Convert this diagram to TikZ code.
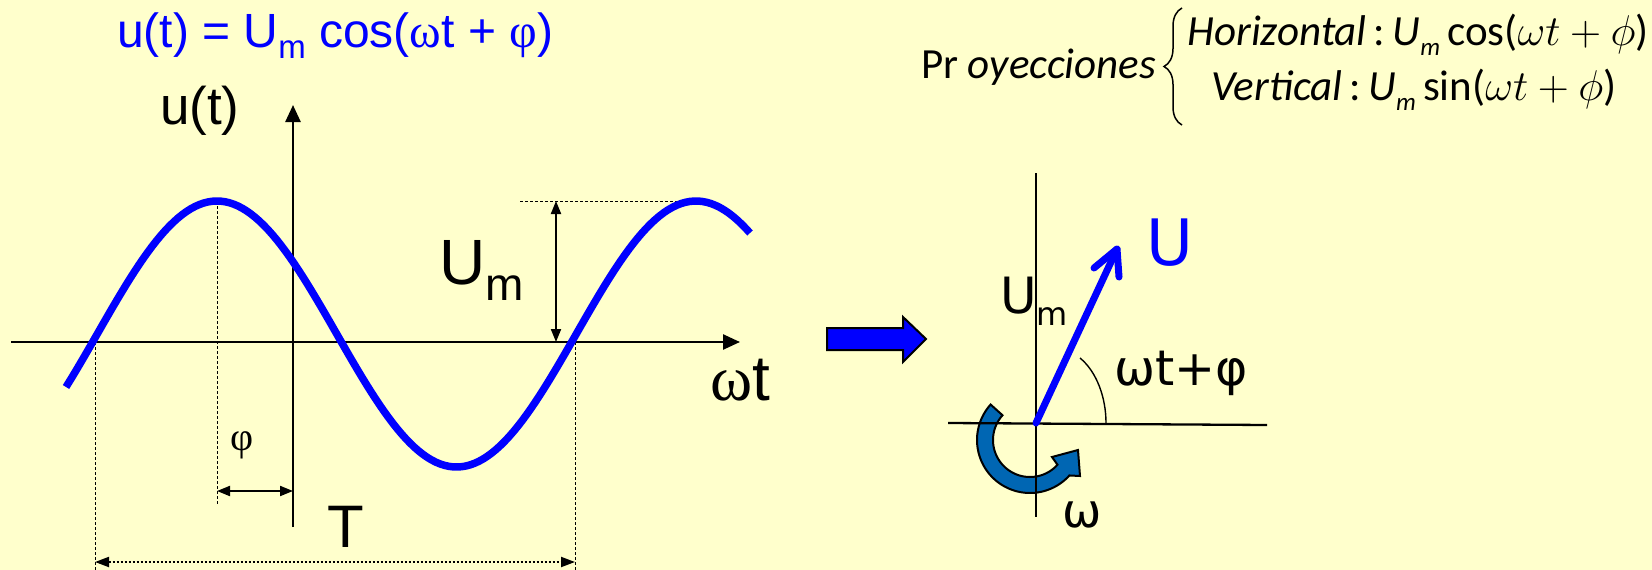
\RequirePackage{fix-cm}
\documentclass[tikz,border=0pt]{standalone}
\usepackage{fontspec}
\setmainfont{Liberation Sans}
\newfontfamily\serifg{Liberation Serif}
\newfontfamily\carl{Carlito}
\newfontfamily\dvs{DejaVu Sans}
\usetikzlibrary{arrows.meta,decorations.pathreplacing}
\definecolor{bg}{RGB}{255,255,204}
\definecolor{rotblue}{RGB}{0,102,179}
\newcommand\fsz[1]{\fontsize{#1}{#1}\selectfont}
\begin{document}
\begin{tikzpicture}[x=1pt,y=-1pt,
  lbl/.style={inner sep=0pt, outer sep=0pt},
  axisline/.style={line width=2.5pt, -{Triangle[length=17pt,width=15pt]}},
  dimline/.style={line width=2pt, {Triangle[length=13pt,width=10pt]}-{Triangle[length=13pt,width=10pt]}},
  guide/.style={line width=1pt, dash pattern=on 3pt off 2pt},
  periodline/.style={line width=2pt, dash pattern=on 2pt off 2pt, {Triangle[length=14pt,width=10pt]}-{Triangle[length=14pt,width=10pt]}},
  thinaxis/.style={line width=2.3pt}]
\fill[bg] (0,0) rectangle (1652,570);
\useasboundingbox (0,0) rectangle (1652,570);

% ---------- left: waveform ----------
\coordinate (xa0) at (11,342);
\coordinate (xa1) at (740,342);
\coordinate (ya0) at (293,527);
\coordinate (ya1) at (293,105);
\coordinate (pk1) at (217,201);
\coordinate (pk1b) at (217,505);
\coordinate (phL) at (217,491);
\coordinate (phR) at (293,491);
\coordinate (z1) at (95,342);
\coordinate (z1b) at (95,570);
\coordinate (z2) at (575,342);
\coordinate (z2b) at (575,570);
\coordinate (tL) at (95,562);
\coordinate (tR) at (575,562);
\coordinate (hL) at (520,201);
\coordinate (pk2) at (696,201);
\coordinate (umT) at (556,201);
\coordinate (umB) at (556,342);

\draw[guide] (pk1) -- (pk1b);
\draw[guide] (z1) -- (z1b);
\draw[guide] (z2) -- (z2b);
\draw[guide] (hL) -- (pk2);
\draw[axisline] (xa0) -- (xa1);
\draw[axisline] (ya0) -- (ya1);
\draw[blue, line width=7.5pt] plot[domain=66:750, samples=160] (\x, {334-133*cos((\x-217)/479*360)});
\draw[dimline] (phL) -- (phR);
\draw[dimline] (umT) -- (umB);
\draw[periodline] (tL) -- (tR);

\node[lbl, anchor=base west, text=blue] (title) at (117,47)
  {\fsz{48}u(t) = U\raisebox{-11pt}{\fsz{33}m} cos({\serifg ω}t + {\serifg φ})};
\node[lbl, anchor=base west] (ut) at (160,124) {\fsz{53}u(t)};
\node[lbl, anchor=base west] (Um) at (439,284) {\fsz{64}U\raisebox{-16pt}{\fsz{46}m}};
\node[lbl, anchor=base] (T) at (346,547) {\fsz{60}T};
\node[lbl, anchor=base west] (wt) at (710,400) {\fsz{64}{\serifg ω}t};
\node[lbl, anchor=base] (phi) at (242,450) {\fsz{40}\serifg φ};

% ---------- block arrow ----------
\draw[fill=blue, line width=2pt, line join=miter]
  (827,328) -- (903,328) -- (903,317) -- (926,339) -- (903,362) -- (903,350) -- (827,350) -- cycle;

% ---------- right: phasor ----------
\coordinate (O) at (1036,423);
\coordinate (vT) at (1036,173);
\coordinate (vB) at (1036,517);
\coordinate (hA) at (948,423);
\coordinate (hB) at (1267,425);
\coordinate (Utip) at (1117,249);
\coordinate (Ua1) at (1094,268);
\coordinate (Ua2) at (1119,277);
\coordinate (a1) at (1080,358);
\coordinate (a2) at (1106,423);

\filldraw[fill=rotblue, draw=black, line width=2pt, line join=miter]
  plot[domain=138:318, samples=60] ({1030+53*cos(\x)}, {440-53*sin(\x)})
  -- (1080,476) -- (1078,450) -- (1052,457)
  -- plot[domain=318:138, samples=60] ({1030+37*cos(\x)}, {440-37*sin(\x)}) -- cycle;

\draw[thinaxis] (vT) -- (vB);
\draw[thinaxis] (hA) -- (hB);
\draw[line width=1.4pt] (a1) .. controls (1097,372) and (1106,398) .. (a2);
\draw[blue, line width=7pt, line cap=round, line join=round] (O) -- (Utip);
\draw[blue, line width=7pt, line cap=round, line join=round] (Ua1) -- (Utip) -- (Ua2);

\node[lbl, anchor=base west, text=blue] (U) at (1146,265) {\dvs\fsz{64}U};
\node[lbl, anchor=base west] (Um2) at (1000,313) {\dvs\fsz{50}U\raisebox{-12pt}{\fsz{32}m}};
\node[lbl, anchor=base west] (ang) at (1114,385) {\dvs\fsz{49}ωt+φ};
\node[lbl, anchor=base west] (om) at (1062,527) {\dvs\fsz{47}ω};

% ---------- projections ----------
\coordinate (brB) at (1182,125);
\coordinate (brT) at (1182,8);
\draw[line width=1.5pt, decorate, decoration={brace, amplitude=18pt}] (brB) -- (brT);
\node[lbl, anchor=base west] (pr) at (921,78) {\carl\fsz{43}Pr \textit{oyecciones}};
\node[lbl, anchor=base] (hz) at (1418,45)
  {\carl\fsz{43}\textit{Horizontal}\,:\,\textit{U}\raisebox{-10pt}{\fsz{25}\textit{m}}\,cos($\omega t+\phi$)};
\node[lbl, anchor=base] (vt) at (1414,100)
  {\carl\fsz{43}\textit{Vertical}\,:\,\textit{U}\raisebox{-10pt}{\fsz{25}\textit{m}}\,sin($\omega t+\phi$)};
\end{tikzpicture}
\end{document}
